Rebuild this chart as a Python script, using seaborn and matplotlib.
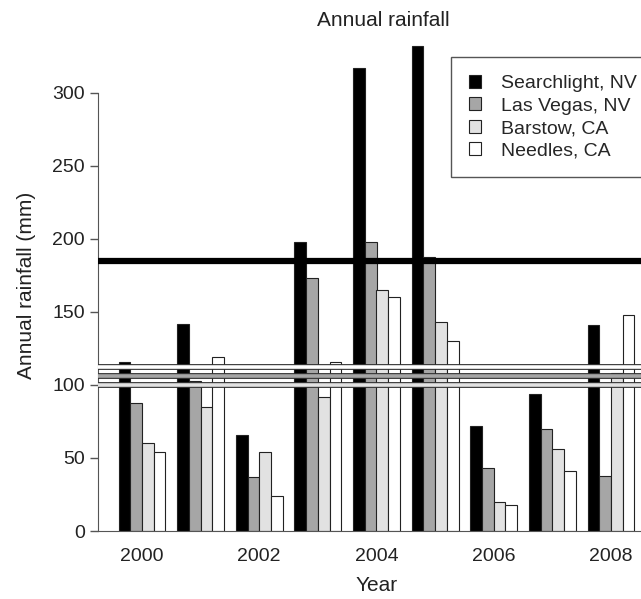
import numpy as np
import pandas as pd
import matplotlib
matplotlib.use("Agg")
import matplotlib.pyplot as plt
import seaborn as sns

years = [2000, 2001, 2002, 2003, 2004, 2005, 2006, 2007, 2008]
stations = ["Searchlight, NV", "Las Vegas, NV", "Barstow, CA", "Needles, CA"]
searchlight = [116, 142, 66, 198, 317, 332, 72, 94, 141]
las_vegas = [88, 103, 37, 173, 198, 188, 43, 70, 38]
barstow = [60, 85, 54, 92, 165, 143, 20, 56, 108]
needles = [54, 119, 24, 116, 160, 130, 18, 41, 148]
# long-term averages drawn as horizontal lines
long_term = [185, 106, 100, 112]

colors = ["#000000", "#a6a6a6", "#e2e2e2", "#ffffff"]

df = pd.DataFrame({
    "Year": years * 4,
    "Station": np.repeat(stations, len(years)),
    "Rain": searchlight + las_vegas + barstow + needles,
})

sns.set_style("white")
plt.rcParams["font.family"] = ["Liberation Sans", "DejaVu Sans"]

fig = plt.figure(figsize=(6.41, 5.99), dpi=100)
ax = fig.add_axes([98 / 641, 68 / 599, 557 / 641, 491 / 599])

sns.barplot(data=df, x="Year", y="Rain", hue="Station", palette=colors,
            edgecolor="#222222", linewidth=0.8, width=0.8, ax=ax)

# average lines: Searchlight solid, the others hollow with a fill
ax.axhline(long_term[0], color="black", lw=4.5, zorder=5)
for val, c in zip(long_term[1:], colors[1:]):
    ax.axhline(val, color="#333333", lw=4.2, zorder=5)
    ax.axhline(val, color=c, lw=2.6, zorder=6)

ax.set_xlim(-0.75, 8.75)
ax.set_ylim(0, 336.3)
ax.set_xticks([0, 2, 4, 6, 8])
ax.set_xticklabels(["2000", "2002", "2004", "2006", "2008"])
ax.set_yticks(range(0, 301, 50))
ax.tick_params(axis="x", length=0, pad=12, labelsize=14, colors="#222222")
ax.tick_params(axis="y", length=6, width=1, color="#555555", labelsize=14,
               labelcolor="#222222", left=True)

for s in ["top", "right"]:
    ax.spines[s].set_visible(False)
ax.spines["left"].set_bounds(0, 300)
ax.spines["left"].set_color("#555555")
ax.spines["bottom"].set_color("#555555")

ax.set_xlabel("Year", fontsize=15, labelpad=8, color="#222222")
ax.set_ylabel("Annual rainfall (mm)", fontsize=15, labelpad=12, color="#222222")
ax.set_title("Annual rainfall", fontsize=15, x=0.512, pad=10, color="#222222")

handles, labels = ax.get_legend_handles_labels()
leg = ax.legend(handles, labels, loc="upper left", bbox_to_anchor=(0.634, 0.965),
                borderaxespad=0, fontsize=14, frameon=True, fancybox=False,
                framealpha=1, edgecolor="#555555", handlelength=0.65,
                handleheight=0.65, labelspacing=0.27, borderpad=0.9,
                handletextpad=1.0)
leg.get_frame().set_linewidth(1.0)
leg.set_zorder(10)

plt.savefig("out.png", dpi=100)
plt.close(fig)
